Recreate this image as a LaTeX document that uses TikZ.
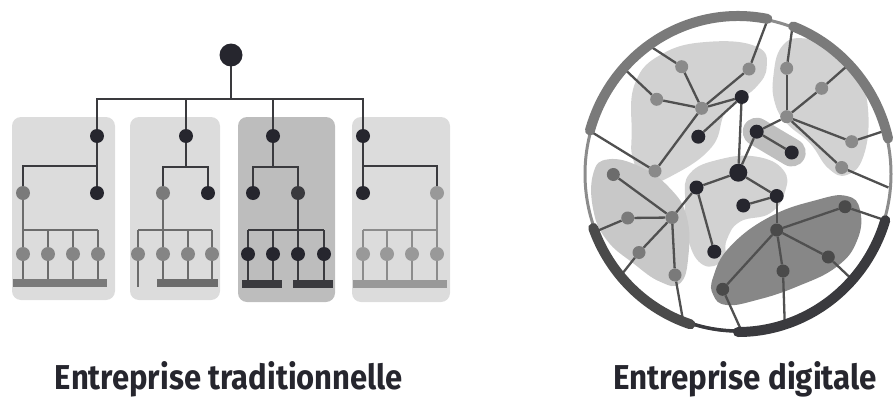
\documentclass[tikz,border=0pt]{standalone}
\usepackage{fontspec}
\usepackage{graphicx}
\newfontfamily\handfont{Fira Sans}
\pgfdeclarelayer{blobs}
\pgfdeclarelayer{edges}
\pgfsetlayers{blobs,edges,main}

\definecolor{ink}{HTML}{26262E}
\definecolor{linedark}{HTML}{3A3A3E}
\definecolor{linegray}{HTML}{6C6C6C}
\definecolor{linelight}{HTML}{8C8C8C}
\definecolor{midgray}{HTML}{7A7A7A}
\definecolor{leafgray}{HTML}{858585}
\definecolor{leaflight}{HTML}{999999}
\definecolor{panellight}{HTML}{DCDCDC}
\definecolor{paneldark}{HTML}{BDBDBD}
\definecolor{blobA}{HTML}{D2D2D2}
\definecolor{blobB}{HTML}{C8C8C8}
\definecolor{blobC}{HTML}{BFBFBF}
\definecolor{blobD}{HTML}{878787}
\definecolor{netgray}{HTML}{8A8A8A}
\definecolor{netdark}{HTML}{4A4A4A}
\definecolor{netline}{HTML}{505050}

\tikzset{
  dot/.style={circle, inner sep=0pt, minimum size=14pt, draw=none},
  rootdot/.style={dot, minimum size=23pt, fill=ink},
  darkdot/.style={dot, fill=ink},
  graydot/.style={dot, fill=midgray},
  leafdot/.style={dot, fill=leafgray},
  lightdot/.style={dot, fill=leaflight},
  bar/.style={rectangle, inner sep=0pt, minimum height=7.5pt, draw=none},
  panel/.style={rounded corners=9pt},
  dk/.style={draw=linedark, line width=2.6pt},
  gl/.style={draw=linegray, line width=2.6pt},
  ll/.style={draw=linelight, line width=2.6pt},
  ndot/.style={circle, inner sep=0pt, minimum size=13pt, draw=none, fill=netgray},
  nblack/.style={circle, inner sep=0pt, minimum size=14pt, draw=none, fill=ink},
  ndark/.style={circle, inner sep=0pt, minimum size=13pt, draw=none, fill=netdark},
  link/.style={draw=netline, line width=2.3pt},
  ringthick/.style={line width=10pt, line cap=round},
  caption/.style={anchor=base, text=ink, inner sep=0pt},
}

\begin{document}
\begin{tikzpicture}[x=1pt, y=-1pt]
\useasboundingbox (0,0) rectangle (895,399);

% ---------- traditional company: panels ----------
\begin{pgfonlayer}{blobs}
  \fill[panellight, panel] (12,117) rectangle (115,300);
  \fill[panellight, panel] (130,117) rectangle (220,300);
  \fill[paneldark, panel] (238,117) rectangle (335,302);
  \fill[panellight, panel] (352,117) rectangle (450,302);
\end{pgfonlayer}

% root and team heads
\node[rootdot] (root) at (231,55) {};
\node[darkdot] (t1) at (97,136) {};
\node[darkdot] (t2) at (186,136) {};
\node[darkdot] (t3) at (273,136) {};
\node[darkdot] (t4) at (363,136) {};
\coordinate (topbus) at (231,99);

% panel 1
\node[darkdot] (m1b) at (97,193) {};
\node[graydot] (m1a) at (23,193) {};
\coordinate (j1) at (97,166);
\coordinate (p1bus) at (60,230);
\node[leafdot] (l11) at (23,254) {};
\node[leafdot] (l12) at (48,254) {};
\node[leafdot] (l13) at (73,254) {};
\node[leafdot] (l14) at (98,254) {};
\node[bar, fill=midgray, minimum width=94pt] (bar1) at (60,283) {};

% panel 2
\coordinate (j2) at (186,167);
\node[graydot] (m2a) at (163,193) {};
\node[darkdot] (m2b) at (208,193) {};
\coordinate (p2bus) at (175,230);
\node[leafdot] (l21) at (138,254) {};
\node[leafdot] (l22) at (163,254) {};
\node[leafdot] (l23) at (188,254) {};
\node[leafdot] (l24) at (212,254) {};
\coordinate (stub2) at (138,287);
\node[bar, fill=linegray, minimum width=61pt] (bar2) at (187.5,283) {};

% panel 3
\coordinate (j3) at (273,167);
\node[darkdot] (m3a) at (253,193) {};
\node[darkdot, fill=linedark] (m3b) at (298,193) {};
\coordinate (p3bus) at (286,230);
\node[darkdot] (l31) at (248,254) {};
\node[darkdot] (l32) at (273,254) {};
\node[darkdot] (l33) at (298,254) {};
\node[darkdot] (l34) at (324,254) {};
\node[bar, fill=linedark, minimum width=40pt] (bar3a) at (262,284) {};
\node[bar, fill=linedark, minimum width=40pt] (bar3b) at (313,284) {};

% panel 4
\coordinate (j4) at (363,166);
\node[darkdot] (m4a) at (363,193) {};
\node[dot, fill=leaflight] (m4b) at (437,193) {};
\coordinate (p4bus) at (400,230);
\node[lightdot] (l41) at (363,254) {};
\node[lightdot] (l42) at (387,254) {};
\node[lightdot] (l43) at (412,254) {};
\node[lightdot] (l44) at (437,254) {};
\node[bar, fill=leaflight, minimum width=94pt] (bar4) at (400,284) {};

\begin{pgfonlayer}{edges}
  % reporting lines from the top
  \draw[dk] (root.center) -- (topbus);
  \draw[dk] (t1.center) |- (topbus) -| (t4.center);
  \draw[dk] (t2.center) -- (t2 |- topbus);
  \draw[dk] (t3.center) -- (t3 |- topbus);
  % panel 1
  \draw[dk] (t1.center) -- (m1b.center);
  \draw[dk] (j1) -| (m1a.center);
  \draw[gl] (m1a.center) -- (m1a |- p1bus) -- (l14 |- p1bus);
  \foreach \n in {l11,l12,l13,l14} \draw[gl] (\n |- p1bus) -- (\n |- bar1.center);
  % panel 2
  \draw[dk] (t2.center) -- (j2);
  \draw[dk] (m2a.center) |- (j2) -| (m2b.center);
  \draw[gl] (m2a.center) -- (m2a |- p2bus);
  \draw[gl] (l21 |- p2bus) -- (l24 |- p2bus);
  \draw[gl, line width=2pt] (l21 |- p2bus) -- (stub2);
  \foreach \n in {l22,l23,l24} \draw[gl] (\n |- p2bus) -- (\n |- bar2.center);
  % panel 3
  \draw[dk] (t3.center) -- (j3);
  \draw[dk] (m3a.center) |- (j3) -| (m3b.center);
  \draw[dk] (m3b.center) -- (m3b |- p3bus);
  \draw[dk] (l31 |- p3bus) -- (l34 |- p3bus);
  \foreach \n in {l31,l32} \draw[dk] (\n |- p3bus) -- (\n |- bar3a.center);
  \foreach \n in {l33,l34} \draw[dk] (\n |- p3bus) -- (\n |- bar3b.center);
  % panel 4
  \draw[dk] (t4.center) -- (m4a.center);
  \draw[dk] (j4) -| (m4b.center);
  \draw[ll] (m4b.center) -- (m4b |- p4bus) -- (l41 |- p4bus);
  \foreach \n in {l41,l42,l43,l44} \draw[ll] (\n |- p4bus) -- (\n |- bar4.center);
\end{pgfonlayer}

% ---------- digital company ----------
\coordinate (ctr) at (738,174);

\begin{pgfonlayer}{blobs}
  \fill[blobA] plot[smooth cycle, tension=0.75] coordinates {
    (631.7,133.3) (635,83.3) (663.3,53.3) (710,41.7) (756.7,46.7) (766.7,66.7)
    (755,88.3) (726.7,110) (712,146.7) (673.3,175) (646.7,181.7) (633.3,160)};
  \fill[blobA] plot[smooth cycle, tension=0.75] coordinates {
    (773.3,76.7) (781.7,46.7) (803.3,38.3) (833.3,50) (858.3,76.7) (868.3,113.3)
    (863.3,156.7) (846.7,175) (828.3,168.3) (810,143.3) (786.7,123.3) (775,103.3)};
  \fill[blobA] plot[smooth cycle, tension=0.75] coordinates {
    (690,173.3) (720,159.3) (756.7,156.7) (783.3,170) (785,191.7) (770,213.3)
    (740,221.7) (726.7,240) (723.3,260) (703.3,265) (688.3,240) (685,200)};
  \fill[blobB] plot[smooth cycle, tension=0.75] coordinates {
    (593.3,173.3) (608.3,159.3) (640,166.7) (670,188.3) (686.7,216.7) (688.3,256.7)
    (680,283.3) (660,281.7) (633.3,263.3) (606.7,240) (593.3,210)};
  \fill[blobD] plot[smooth cycle, tension=0.75] coordinates {
    (713.3,276.7) (730,246.7) (770,216.7) (816.7,200) (846.7,196) (860,210)
    (857.3,240) (836.7,266.7) (796.7,286.7) (756.7,300) (726.7,305) (713.3,295)};
\end{pgfonlayer}

% outer ring
\draw[draw=linelight, line width=3pt] (ctr) ellipse [x radius=153, y radius=157];
\draw[draw=linedark, line width=3.5pt] (ctr) ++(88:153 and 157) arc[start angle=88, end angle=110, x radius=153, y radius=157];
\draw[ringthick, draw=midgray] (ctr) ++(196:154 and 158) arc[start angle=196, end angle=281, x radius=154, y radius=158];
\draw[ringthick, draw=midgray] (ctr) ++(291:154 and 158) arc[start angle=291, end angle=347, x radius=154, y radius=158];
\draw[ringthick, draw=linedark] (ctr) ++(17:154 and 158) arc[start angle=17, end angle=90, x radius=154, y radius=158];
\draw[ringthick, draw=netdark] (ctr) ++(108:154 and 158) arc[start angle=108, end angle=160, x radius=154, y radius=158];

% points where links meet the ring
\foreach \nm/\ang in {rg1/235, rg2/281, rg3/222, rg4/195.5, rh1/291, rh2/316, rh3/344, rh4/5,
                      rk1/17, rk2/42, rk3/72, rk4/89, rf4/111.5, rf3/140, rf2/158.5}
  \path (ctr) ++(\ang:151 and 155) coordinate (\nm);

% upper-left team
\node[ndot] (A) at (701.7,108.3) {};
\node[ndot] (g1) at (681.7,66.7) {};
\node[ndot] (g2) at (749,69) {};
\node[ndot] (g3) at (656.7,99.3) {};
\node[ndot] (g4) at (655,171) {};
\node[nblack] (d1) at (741.7,97) {};
\node[nblack] (d2) at (698.3,136.7) {};
% upper-right team
\node[ndot] (B) at (786.7,116.7) {};
\node[ndot] (h1) at (786.7,68.3) {};
\node[ndot] (h2) at (821.7,88.3) {};
\node[ndot] (h3) at (851.7,141.7) {};
\node[ndot] (h4) at (841.7,167.5) {};
\node[nblack] (d3) at (756.7,131.7) {};
\node[nblack] (d4) at (791.7,152.5) {};
% centre team
\node[nblack, minimum size=18pt] (C) at (738.3,172.7) {};
\node[nblack] (e1) at (696.5,187.5) {};
\node[nblack] (e2) at (776.7,196) {};
\node[nblack] (e3) at (743.3,205.5) {};
\node[nblack] (e4) at (714.3,251.7) {};
% left team
\node[ndot, fill=midgray] (D) at (672,217.5) {};
\node[ndot, fill=linegray] (f1) at (613.3,174.5) {};
\node[ndot, fill=midgray] (f2) at (627.7,218) {};
\node[ndot, fill=midgray] (f3) at (639,252.5) {};
\node[ndot, fill=midgray] (f4) at (675,275) {};
% lower team
\node[ndark] (E) at (776.7,230) {};
\node[ndark] (k1) at (845,206.7) {};
\node[ndark] (k2) at (828.3,257) {};
\node[ndark] (k3) at (783,271) {};
\node[ndark] (k4) at (722.7,289.3) {};

\begin{pgfonlayer}{blobs}
  % halo round the small pair
  \draw[blobC, line width=28pt, line cap=round] (d3.center) -- (d4.center);
\end{pgfonlayer}

\begin{pgfonlayer}{edges}
  \foreach \a/\b in {A/g1, g1/rg1, A/g3, g3/rg3, A/g2, g2/rg2, A/d1, A/g4, g4/rg4, d2/d1, d1/C,
                     B/h1, h1/rh1, B/h2, h2/rh2, B/h3, h3/rh3, B/h4, h4/rh4, B/d3, d3/d4, d3/C,
                     C/e1, C/e2, e2/e3, e1/e4, e1/D,
                     D/f1, D/f2, f2/rf2, D/f3, f3/rf3, D/f4, f4/rf4,
                     e2/E, E/k1, k1/rk1, E/k2, k2/rk2, E/k3, k3/rk3, E/k4, k4/rk4}
    \draw[link] (\a) -- (\b);
\end{pgfonlayer}

% ---------- captions ----------
\node[caption] (cap1) at (229,389) {\resizebox{348pt}{28pt}{\handfont\bfseries Entreprise traditionnelle}};
\node[caption] (cap2) at (745,389) {\resizebox{264pt}{28pt}{\handfont\bfseries Entreprise digitale}};
\end{tikzpicture}
\end{document}
